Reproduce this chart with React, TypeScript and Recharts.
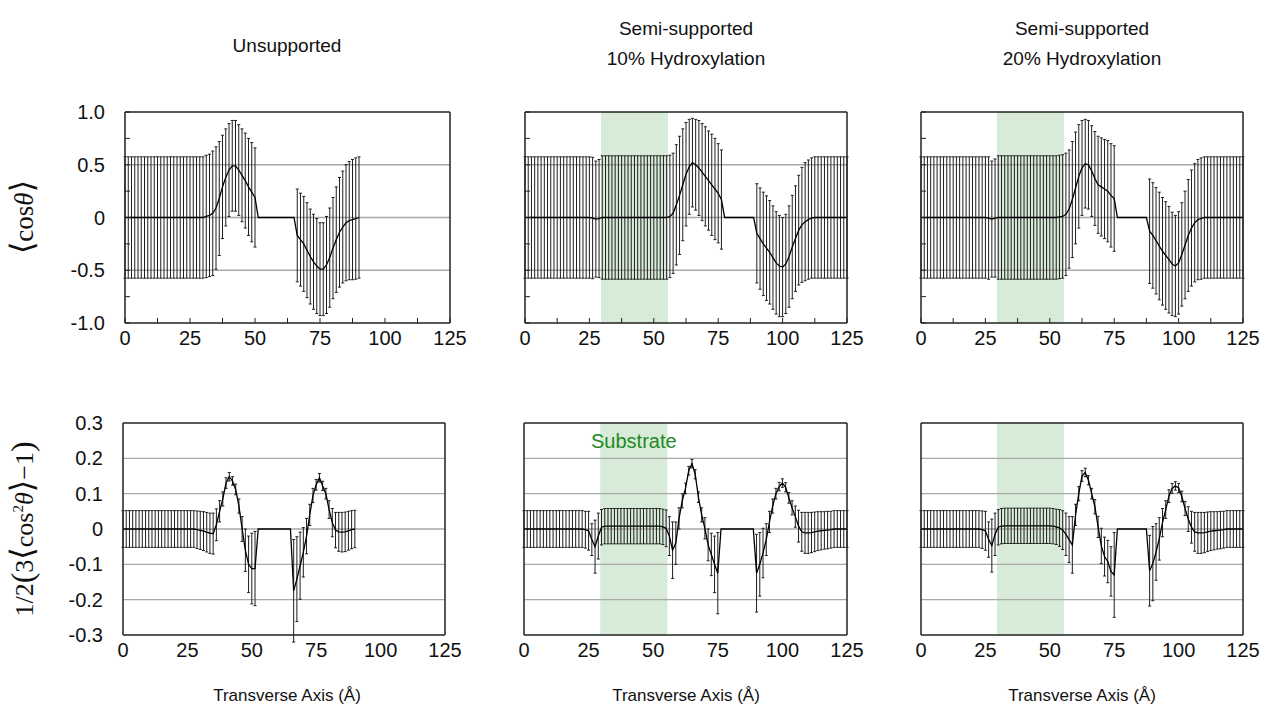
import { LineChart, Line, XAxis, YAxis, ErrorBar, ReferenceLine, ReferenceArea } from 'recharts';

// bin centres along the transverse axis (Å)
const X = [
  0, 1.25, 2.5, 3.75, 5, 6.25, 7.5, 8.75, 10, 11.25,
  12.5, 13.75, 15, 16.25, 17.5, 18.75, 20, 21.25, 22.5, 23.75,
  25, 26.25, 27.5, 28.75, 30, 31.25, 32.5, 33.75, 35, 36.25,
  37.5, 38.75, 40, 41.25, 42.5, 43.75, 45, 46.25, 47.5, 48.75,
  50, 51.25, 52.5, 53.75, 55, 56.25, 57.5, 58.75, 60, 61.25,
  62.5, 63.75, 65, 66.25, 67.5, 68.75, 70, 71.25, 72.5, 73.75,
  75, 76.25, 77.5, 78.75, 80, 81.25, 82.5, 83.75, 85, 86.25,
  87.5, 88.75, 90, 91.25, 92.5, 93.75, 95, 96.25, 97.5, 98.75,
  100, 101.25, 102.5, 103.75, 105, 106.25, 107.5, 108.75, 110, 111.25,
  112.5, 113.75, 115, 116.25, 117.5, 118.75, 120, 121.25, 122.5, 123.75,
  125,
];

// <cos theta>, unsupported
const cosUnsup = [
  0, 0, 0, 0, 0, 0, 0, 0, 0, 0,
  0, 0, 0, 0, 0, 0, 0, 0, 0, 0,
  0, 0, 0, 0, 0, 0.01, 0.02, 0.04, 0.09, 0.18,
  0.29, 0.38, 0.45, 0.49, 0.49, 0.45, 0.4, 0.35, 0.29, 0.24,
  0.19, 0, 0, 0, 0, 0, 0, 0, 0, 0,
  0, 0, 0, -0.17, -0.21, -0.25, -0.31, -0.37, -0.42, -0.46,
  -0.49, -0.49, -0.45, -0.38, -0.29, -0.21, -0.14, -0.09, -0.05, -0.03,
  -0.02, -0.01, 0,
];
const cosUnsupErr = [
  0.575, 0.575, 0.575, 0.575, 0.575, 0.575, 0.575, 0.575, 0.575, 0.575,
  0.575, 0.575, 0.575, 0.575, 0.575, 0.575, 0.575, 0.575, 0.575, 0.575,
  0.575, 0.575, 0.575, 0.575, 0.575, 0.58, 0.58, 0.59, 0.58, 0.54,
  0.49, 0.46, 0.44, 0.43, 0.43, 0.43, 0.44, 0.45, 0.46, 0.47,
  0.47, 0, 0, 0, 0, 0, 0, 0, 0, 0,
  0, 0, 0, 0.44, 0.44, 0.45, 0.45, 0.45, 0.45, 0.45,
  0.44, 0.44, 0.46, 0.47, 0.48, 0.5, 0.52, 0.53, 0.55, 0.56,
  0.57, 0.575, 0.575,
];

// <cos theta>, 10% hydroxylation
const cos10 = [
  0, 0, 0, 0, 0, 0, 0, 0, 0, 0,
  0, 0, 0, 0, 0, 0, 0, 0, 0, 0,
  0, -0.005, -0.015, -0.01, 0, 0, 0, 0, 0, 0,
  0, 0, 0, 0, 0, 0, 0, 0, 0, 0,
  0, 0, 0, 0, 0, 0.01, 0.04, 0.12, 0.21, 0.31,
  0.41, 0.48, 0.52, 0.5, 0.47, 0.43, 0.39, 0.35, 0.31, 0.27,
  0.23, 0.17, 0, 0, 0, 0, 0, 0, 0, 0,
  0, 0, -0.15, -0.2, -0.25, -0.29, -0.33, -0.38, -0.43, -0.46,
  -0.47, -0.44, -0.37, -0.28, -0.2, -0.12, -0.07, -0.04, -0.02, -0.005,
  0, 0, 0, 0, 0, 0, 0, 0, 0, 0,
  0,
];
const cos10Err = [
  0.575, 0.575, 0.575, 0.575, 0.575, 0.575, 0.575, 0.575, 0.575, 0.575,
  0.575, 0.575, 0.575, 0.575, 0.575, 0.575, 0.575, 0.575, 0.575, 0.575,
  0.575, 0.575, 0.55, 0.56, 0.585, 0.585, 0.585, 0.585, 0.585, 0.585,
  0.585, 0.585, 0.585, 0.585, 0.585, 0.585, 0.585, 0.585, 0.585, 0.585,
  0.585, 0.585, 0.585, 0.585, 0.585, 0.58, 0.57, 0.57, 0.56, 0.53,
  0.49, 0.45, 0.42, 0.43, 0.45, 0.46, 0.47, 0.47, 0.48, 0.48,
  0.47, 0.47, 0, 0, 0, 0, 0, 0, 0, 0,
  0, 0, 0.47, 0.48, 0.49, 0.495, 0.49, 0.49, 0.485, 0.48,
  0.47, 0.47, 0.48, 0.49, 0.5, 0.52, 0.545, 0.56, 0.565, 0.57,
  0.575, 0.575, 0.575, 0.575, 0.575, 0.575, 0.575, 0.575, 0.575, 0.575,
  0.575,
];

// <cos theta>, 20% hydroxylation
const cos20 = [
  0, 0, 0, 0, 0, 0, 0, 0, 0, 0,
  0, 0, 0, 0, 0, 0, 0, 0, 0, 0,
  0, -0.005, -0.015, -0.005, 0, 0, 0, 0, 0, 0,
  0, 0, 0, 0, 0, 0, 0, 0, 0, 0,
  0, 0, 0, 0.005, 0.01, 0.03, 0.08, 0.17, 0.28, 0.39,
  0.47, 0.51, 0.5, 0.44, 0.37, 0.31, 0.29, 0.27, 0.25, 0.21,
  0.18, 0, 0, 0, 0, 0, 0, 0, 0, 0,
  0, -0.13, -0.17, -0.22, -0.27, -0.32, -0.36, -0.4, -0.44, -0.46,
  -0.43, -0.35, -0.26, -0.17, -0.1, -0.05, -0.02, -0.01, 0, 0,
  0, 0, 0, 0, 0, 0, 0, 0, 0, 0,
  0,
];
const cos20Err = [
  0.575, 0.575, 0.575, 0.575, 0.575, 0.575, 0.575, 0.575, 0.575, 0.575,
  0.575, 0.575, 0.575, 0.575, 0.575, 0.575, 0.575, 0.575, 0.575, 0.575,
  0.575, 0.58, 0.55, 0.56, 0.585, 0.585, 0.585, 0.585, 0.585, 0.585,
  0.585, 0.585, 0.585, 0.585, 0.585, 0.585, 0.585, 0.585, 0.585, 0.585,
  0.585, 0.585, 0.585, 0.585, 0.585, 0.58, 0.56, 0.55, 0.53, 0.49,
  0.45, 0.42, 0.42, 0.43, 0.445, 0.46, 0.465, 0.47, 0.48, 0.49,
  0.5, 0, 0, 0, 0, 0, 0, 0, 0, 0,
  0, 0.495, 0.5, 0.505, 0.51, 0.51, 0.51, 0.505, 0.49, 0.48,
  0.485, 0.49, 0.51, 0.53, 0.55, 0.56, 0.57, 0.575, 0.575, 0.575,
  0.575, 0.575, 0.575, 0.575, 0.575, 0.575, 0.575, 0.575, 0.575, 0.575,
  0.575,
];

// P2 order parameter, unsupported
const p2Unsup = [
  0, 0, 0, 0, 0, 0, 0, 0, 0, 0,
  0, 0, 0, 0, 0, 0, 0, 0, 0, 0,
  0, 0, 0, -0.002, -0.004, -0.006, -0.009, -0.012, -0.013, 0.012,
  0.05, 0.085, 0.13, 0.148, 0.136, 0.112, 0.065, 0, -0.06, -0.1,
  -0.112, -0.112, 0, 0, 0, 0, 0, 0, 0, 0,
  0, 0, 0, -0.175, -0.142, -0.104, -0.066, -0.02, 0.04, 0.095,
  0.125, 0.145, 0.122, 0.1, 0.055, 0.018, -0.003, -0.008, -0.009, -0.008,
  -0.005, -0.002, 0,
];
const p2UnsupErr = [
  0.052, 0.052, 0.052, 0.052, 0.052, 0.052, 0.052, 0.052, 0.052, 0.052,
  0.052, 0.052, 0.052, 0.052, 0.052, 0.052, 0.052, 0.052, 0.052, 0.052,
  0.052, 0.052, 0.052, 0.053, 0.054, 0.055, 0.056, 0.057, 0.058, 0.045,
  0.03, 0.02, 0.015, 0.012, 0.012, 0.015, 0.02, 0.035, 0.06, 0.08,
  0.1, 0.105, 0, 0, 0, 0, 0, 0, 0, 0,
  0, 0, 0, 0.145, 0.12, 0.095, 0.07, 0.05, 0.03, 0.02,
  0.015, 0.012, 0.013, 0.015, 0.025, 0.04, 0.05, 0.055, 0.056, 0.056,
  0.055, 0.054, 0.053,
];

// P2 order parameter, 10% hydroxylation
const p210 = [
  0, 0, 0, 0, 0, 0, 0, 0, 0, 0,
  0, 0, 0, 0, 0, 0, 0, 0, 0, -0.002,
  -0.005, -0.03, -0.05, -0.02, 0.005, 0.008, 0.008, 0.008, 0.008, 0.008,
  0.008, 0.008, 0.008, 0.008, 0.008, 0.008, 0.008, 0.008, 0.008, 0.008,
  0.008, 0.008, 0.008, 0.006, 0.002, -0.02, -0.06, -0.04, 0.03, 0.08,
  0.115, 0.165, 0.185, 0.155, 0.09, 0.04, 0.002, -0.045, -0.072, -0.1,
  -0.125, 0, 0, 0, 0, 0, 0, 0, 0, 0,
  0, 0, -0.125, -0.1, -0.068, -0.03, 0.02, 0.065, 0.1, 0.12,
  0.13, 0.118, 0.088, 0.06, 0.035, 0.008, -0.008, -0.011, -0.011, -0.01,
  -0.008, -0.006, -0.005, -0.004, -0.003, -0.002, 0, 0, 0, 0,
  0,
];
const p210Err = [
  0.052, 0.052, 0.052, 0.052, 0.052, 0.052, 0.052, 0.052, 0.052, 0.052,
  0.052, 0.052, 0.052, 0.052, 0.052, 0.052, 0.052, 0.052, 0.052, 0.052,
  0.055, 0.045, 0.075, 0.065, 0.05, 0.05, 0.05, 0.05, 0.05, 0.05,
  0.05, 0.05, 0.05, 0.05, 0.05, 0.05, 0.05, 0.05, 0.05, 0.05,
  0.05, 0.05, 0.05, 0.05, 0.052, 0.055, 0.08, 0.06, 0.03, 0.02,
  0.015, 0.012, 0.012, 0.013, 0.015, 0.02, 0.03, 0.045, 0.06, 0.08,
  0.115, 0, 0, 0, 0, 0, 0, 0, 0, 0,
  0, 0, 0.11, 0.09, 0.07, 0.045, 0.03, 0.02, 0.015, 0.012,
  0.012, 0.013, 0.015, 0.02, 0.03, 0.045, 0.055, 0.058, 0.058, 0.057,
  0.056, 0.055, 0.054, 0.053, 0.053, 0.052, 0.052, 0.052, 0.052, 0.052,
  0.052,
];

// P2 order parameter, 20% hydroxylation
const p220 = [
  0, 0, 0, 0, 0, 0, 0, 0, 0, 0,
  0, 0, 0, 0, 0, 0, 0, 0, 0, -0.002,
  -0.005, -0.03, -0.047, -0.015, 0.005, 0.008, 0.009, 0.009, 0.009, 0.009,
  0.009, 0.009, 0.009, 0.009, 0.009, 0.009, 0.009, 0.009, 0.009, 0.009,
  0.009, 0.008, 0.006, 0.003, -0.003, -0.015, -0.03, -0.045, 0.04, 0.1,
  0.15, 0.16, 0.138, 0.1, 0.063, 0.006, -0.048, -0.078, -0.092, -0.12,
  -0.13, 0, 0, 0, 0, 0, 0, 0, 0, 0,
  0, -0.118, -0.098, -0.065, -0.028, 0.018, 0.055, 0.093, 0.115, 0.122,
  0.116, 0.092, 0.058, 0.028, 0.005, -0.008, -0.011, -0.011, -0.01, -0.008,
  -0.006, -0.005, -0.004, -0.003, -0.002, 0, 0, 0, 0, 0,
  0,
];
const p220Err = [
  0.052, 0.052, 0.052, 0.052, 0.052, 0.052, 0.052, 0.052, 0.052, 0.052,
  0.052, 0.052, 0.052, 0.052, 0.052, 0.052, 0.052, 0.052, 0.052, 0.053,
  0.055, 0.05, 0.075, 0.06, 0.05, 0.05, 0.05, 0.05, 0.05, 0.05,
  0.05, 0.05, 0.05, 0.05, 0.05, 0.05, 0.05, 0.05, 0.05, 0.05,
  0.05, 0.05, 0.05, 0.052, 0.055, 0.06, 0.065, 0.08, 0.03, 0.02,
  0.015, 0.012, 0.013, 0.015, 0.02, 0.03, 0.05, 0.055, 0.06, 0.07,
  0.12, 0, 0, 0, 0, 0, 0, 0, 0, 0,
  0, 0.1, 0.105, 0.08, 0.06, 0.04, 0.025, 0.018, 0.014, 0.012,
  0.013, 0.015, 0.02, 0.035, 0.045, 0.055, 0.058, 0.058, 0.057, 0.056,
  0.055, 0.054, 0.053, 0.053, 0.052, 0.052, 0.052, 0.052, 0.052, 0.052,
  0.052,
];

const X_TICKS_MINOR = [0, 12.5, 25, 37.5, 50, 62.5, 75, 87.5, 100, 112.5, 125];
const X_TICKS = [0, 25, 50, 75, 100, 125];
const COS_TICKS = [-1, -0.75, -0.5, -0.25, 0, 0.25, 0.5, 0.75, 1];
const COS_GRID = [-0.5, 0, 0.5];
const P2_TICKS = [-0.3, -0.2, -0.1, 0, 0.1, 0.2, 0.3];
const P2_GRID = [-0.2, -0.1, 0, 0.1, 0.2];
const SUBSTRATE = [29.5, 55.5];

const TITLES = ['Unsupported', 'Semi-supported\n10% Hydroxylation', 'Semi-supported\n20% Hydroxylation'];
const X_LABEL = 'Transverse Axis (Å)';

const SANS = '"Liberation Sans", Arial, Helvetica, sans-serif';
const SERIF = '"Liberation Serif", "DejaVu Serif", "Times New Roman", serif';

const ML = 60;
const MT = 10;
const MR = 20;
const MB = 40;

const fmtNum = (v: number) => (v === 0 ? '0' : v.toFixed(1));
const isMult = (v: number, step: number) => Math.abs(v / step - Math.round(v / step)) < 1e-6;

interface PanelProps {
  left: number;
  top: number;
  w: number;
  h: number;
  mean: number[];
  err: number[];
  domain: [number, number];
  yTicks: number[];
  grid: number[];
  showLabels: boolean;
  innerTicks: boolean;
  band?: boolean;
  bandLabel?: boolean;
}

function Panel({ left, top, w, h, mean, err, domain, yTicks, grid, showLabels, innerTicks, band, bandLabel }: PanelProps) {
  const data = mean.map((m, i) => ({ x: X[i], m, e: err[i] }));
  const tickStyle = { fontSize: 20, fill: '#111', fontFamily: SANS };
  return (
    <div style={{ position: 'absolute', left: left - ML, top: top - MT, fontFamily: SANS }}>
      <LineChart width={w + ML + MR} height={h + MT + MB} data={data} margin={{ top: MT, right: MR, left: 0, bottom: 0 }}>
        <XAxis
          dataKey="x"
          type="number"
          domain={[0, 125]}
          ticks={innerTicks ? X_TICKS_MINOR : X_TICKS}
          interval={0}
          height={MB}
          tick={tickStyle}
          tickFormatter={(v: number) => (isMult(v, 25) ? String(v) : '')}
          tickLine={innerTicks ? { stroke: '#222' } : false}
          tickSize={innerTicks ? -5 : 0}
          tickMargin={innerTicks ? 13 : 8}
          axisLine={{ stroke: '#222', strokeWidth: 1.5 }}
        />
        <YAxis
          type="number"
          domain={domain}
          allowDataOverflow
          ticks={yTicks}
          interval={0}
          width={ML}
          tick={tickStyle}
          tickFormatter={(v: number) => (showLabels && (innerTicks ? isMult(v, 0.5) : true) ? fmtNum(v) : '')}
          tickLine={innerTicks ? { stroke: '#222' } : false}
          tickSize={innerTicks ? -5 : 0}
          tickMargin={innerTicks ? 25 : 20}
          axisLine={{ stroke: '#222', strokeWidth: 1.5 }}
        />
        {band && (
          <ReferenceArea
            x1={SUBSTRATE[0]}
            x2={SUBSTRATE[1]}
            fill="#3c9a3c"
            fillOpacity={0.2}
            stroke="none"
            label={bandLabel ? { value: 'Substrate', position: 'insideTop', offset: 11, fill: '#1f8a1f', fontSize: 20 } : undefined}
          />
        )}
        {grid.map((g) => (
          <ReferenceLine key={g} y={g} stroke="#a9a9a9" strokeWidth={1.3} />
        ))}
        <Line
          type="linear"
          dataKey="m"
          stroke="#000"
          strokeWidth={1.3}
          dot={false}
          isAnimationActive={false}
        >
          <ErrorBar dataKey="e" direction="y" width={1.5} stroke="#1e1e1e" strokeWidth={1} isAnimationActive={false} />
        </Line>
        <ReferenceLine y={domain[1]} stroke="#222" strokeWidth={1.5} />
        <ReferenceLine x={125} stroke="#222" strokeWidth={1.5} />
      </LineChart>
    </div>
  );
}

const COL_CENTERS = [287, 686, 1082];

export default function App() {
  return (
    <div style={{ position: 'absolute', left: 0, top: 0, width: 1264, height: 713, background: '#fff', fontFamily: SANS, color: '#111' }}>
      {TITLES.map((t, i) => (
        <div
          key={t}
          style={{
            position: 'absolute',
            left: COL_CENTERS[i] - 150,
            width: 300,
            top: i === 0 ? 31 : 14,
            textAlign: 'center',
            fontSize: 19,
            lineHeight: '30px',
            whiteSpace: 'pre',
          }}
        >
          {t}
        </div>
      ))}

      <div
        style={{
          position: 'absolute',
          left: 22,
          top: 217,
          transform: 'translate(-50%, -50%) rotate(-90deg)',
          fontFamily: SERIF,
          fontSize: 27,
          whiteSpace: 'nowrap',
        }}
      >
        <span style={{ fontSize: 32 }}>⟨</span>cos<i>θ</i><span style={{ fontSize: 32 }}>⟩</span>
      </div>
      <div
        style={{
          position: 'absolute',
          left: 22,
          top: 529,
          transform: 'translate(-50%, -50%) rotate(-90deg)',
          fontFamily: SERIF,
          fontSize: 26,
          whiteSpace: 'nowrap',
        }}
      >
        1/2<span style={{ fontSize: 32 }}>(</span>3<span style={{ fontSize: 32 }}>⟨</span>cos<sup style={{ fontSize: 15 }}>2</sup><i>θ</i>
        <span style={{ fontSize: 32 }}>⟩</span>−1<span style={{ fontSize: 32 }}>)</span>
      </div>

      <Panel left={125} top={112} w={325} h={211} mean={cosUnsup} err={cosUnsupErr} domain={[-1, 1]} yTicks={COS_TICKS} grid={COS_GRID} showLabels innerTicks />
      <Panel left={525} top={112} w={322} h={211} mean={cos10} err={cos10Err} domain={[-1, 1]} yTicks={COS_TICKS} grid={COS_GRID} showLabels={false} innerTicks band />
      <Panel left={921} top={112} w={322} h={211} mean={cos20} err={cos20Err} domain={[-1, 1]} yTicks={COS_TICKS} grid={COS_GRID} showLabels={false} innerTicks band />

      <Panel left={123} top={423} w={322} h={212} mean={p2Unsup} err={p2UnsupErr} domain={[-0.3, 0.3]} yTicks={P2_TICKS} grid={P2_GRID} showLabels innerTicks={false} />
      <Panel left={524} top={423} w={323} h={212} mean={p210} err={p210Err} domain={[-0.3, 0.3]} yTicks={P2_TICKS} grid={P2_GRID} showLabels={false} innerTicks={false} band bandLabel />
      <Panel left={921} top={423} w={322} h={212} mean={p220} err={p220Err} domain={[-0.3, 0.3]} yTicks={P2_TICKS} grid={P2_GRID} showLabels={false} innerTicks={false} band />

      {COL_CENTERS.map((c) => (
        <div key={c} style={{ position: 'absolute', left: c - 150, width: 300, top: 686, textAlign: 'center', fontSize: 17 }}>
          {X_LABEL}
        </div>
      ))}
    </div>
  );
}
